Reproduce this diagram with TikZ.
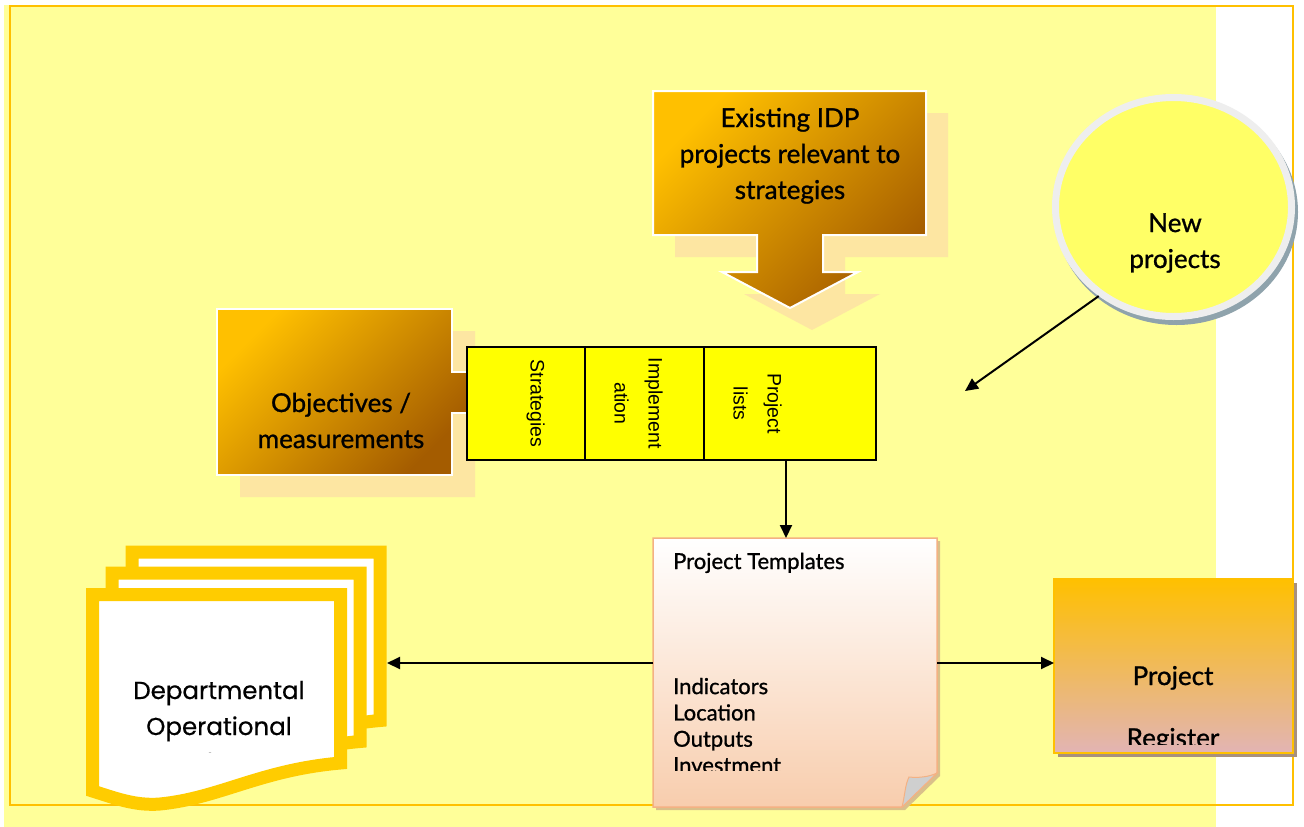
\documentclass[tikz,border=0pt]{standalone}
\usepackage{fontspec}
\setmainfont{Lato}
\newfontfamily\lblfont{Lato}[FakeBold=1]
\newfontfamily\stripfont{Liberation Sans}
\newfontfamily\docfont{Poppins}[FakeBold=0.6]
\usetikzlibrary{arrows.meta,shapes.geometric,calc}

\definecolor{bgyellow}{HTML}{FFFF99}
\definecolor{frameorange}{HTML}{FFC000}
\definecolor{goldlight}{HTML}{FFC000}
\definecolor{golddark}{HTML}{A45C00}
\definecolor{shadowtan}{HTML}{FDE6A2}
\definecolor{stripyellow}{HTML}{FFFF00}
\definecolor{circlefill}{HTML}{FFFF66}
\definecolor{ringgrey}{HTML}{EEEEEE}
\definecolor{circleshadow}{HTML}{8FA3AC}
\definecolor{noteedge}{HTML}{F4B183}
\definecolor{notebottom}{HTML}{F8CDAD}
\definecolor{noteshadow}{HTML}{D9C08A}
\definecolor{foldgrey}{HTML}{CFCFCF}
\definecolor{docgold}{HTML}{FFCC00}
\definecolor{regtop}{HTML}{FFC000}
\definecolor{regmid}{HTML}{F3B878}
\definecolor{regbottom}{HTML}{E2B4B4}
\definecolor{regshadow}{HTML}{A8907C}

\tikzset{
  conn/.style={line width=2pt, -{Triangle[length=13pt,width=12pt]}},
  anchorbox/.style={rectangle, inner sep=0pt, outer sep=0pt},
  bigtxt/.style={font=\lblfont\fontsize{26}{36}\selectfont, align=center, inner sep=0pt},
  notetxt/.style={font=\lblfont\fontsize{22}{26.3}\selectfont, align=left, inner sep=0pt},
  doctxt/.style={font=\docfont\fontsize{24.5}{36}\selectfont, align=center, inner sep=0pt},
  celltxt/.style={font=\stripfont\fontsize{19.5}{34}\selectfont, align=center, inner sep=0pt, rotate=-90, anchor=north},
  cellbox/.style={rectangle, inner sep=0pt, minimum height=113pt, fill=stripyellow, draw=black, line width=1.5pt},
  idpshape/.style={insert path={(653,91) -- (926,91) -- (926,235) -- (823,235) -- (823,272) -- (858,272) -- (790,308) -- (722,272) -- (757,272) -- (757,235) -- (653,235) -- cycle}},
  objshape/.style={insert path={(217,309) -- (452,309) -- (452,372) -- (467,372) -- (467,413) -- (452,413) -- (452,475) -- (217,475) -- cycle}},
  noteshape/.style={insert path={(653,538) -- (937,538) -- (937,773) -- (902,807) -- (653,807) -- cycle}},
  docshape/.style={insert path={(92.5,594.5) -- (340.5,594.5) -- (340.5,763) .. controls (260,770) and (220,798) .. (160,804) .. controls (135,806) and (115,798) .. (92.5,791) -- cycle}},
  goldfill/.style={top color=goldlight, bottom color=golddark, shading angle=45, draw=white, line width=2pt},
  docstyle/.style={fill=white, draw=docgold, line width=13pt, line join=miter},
}

\begin{document}
\begin{tikzpicture}[x=1pt,y=-1pt]
\useasboundingbox (0,0) rectangle (1304,827);

% page background and frame
\fill[white] (0,0) rectangle (1304,827);
\fill[bgyellow] (4,5) rectangle (1216,827);
\draw[frameorange, line width=2.5pt] (10,6) rectangle (1293,805);

% existing IDP projects: down-arrow callout with shadow
\fill[shadowtan, shift={(22,22)}] [idpshape];
\shadedraw[goldfill] [idpshape];
\node[bigtxt, anchor=base] (idp) at (790,199) {Existing IDP\\projects relevant to\\strategies};

% objectives / measurements callout with shadow
\fill[shadowtan, shift={(23,22)}] [objshape];
\shadedraw[goldfill] [objshape];
\node[bigtxt, anchor=base] (obj) at (341,448) {Objectives /\\measurements};

% strip of three cells
\node[cellbox, minimum width=118pt] (cell1) at (526,403.5) {};
\node[cellbox, minimum width=119pt] (cell2) at (644.5,403.5) {};
\node[cellbox, minimum width=172pt] (cell3) at (790,403.5) {};
\node[celltxt] (cell1txt) at (545,403.5) {Strategies};
\node[celltxt] (cell2txt) at (663,403.5) {Implement\\ation};
\node[celltxt] (cell3txt) at (782,403.5) {Project\\lists};

% new projects circle
\fill[circleshadow] (1176.5,212) ellipse [x radius=121.5, y radius=113];
\node[ellipse, fill=circlefill, draw=ringgrey, line width=7pt, minimum width=236pt, minimum height=219pt, inner sep=0pt] (newp) at (1173.5,207) {};
\node[bigtxt, anchor=base] (newptxt) at (1175,268) {New\\projects};
\coordinate (newend) at (965,391);
\draw[conn] (newp.-130) -- (newend);

% project templates note with folded corner
\node[anchorbox, minimum width=284pt, minimum height=269pt] (tmpl) at (795,672.5) {};
\fill[noteshadow, shift={(3,3)}] [noteshape];
\shadedraw[top color=white, bottom color=notebottom, draw=noteedge, line width=1.5pt] [noteshape];
\filldraw[fill=foldgrey, draw=noteedge, line width=1pt] (902,807) .. controls (905,795) and (905,785) .. (909,777) .. controls (918,778) and (929,777) .. (937,773) -- cycle;
\node[notetxt, anchor=base west] (tmplhead) at (673,569) {Project Templates};
\begin{scope}
  \clip (653,538) rectangle (937,770);
  \node[notetxt, anchor=base west] (tmpllist) at (673,773) {Indicators\\Location\\Outputs\\Investment};
\end{scope}

% departmental operational plan: stacked documents
\filldraw[docstyle, shift={(39.5,-42.5)}] [docshape];
\filldraw[docstyle, shift={(19.5,-21.5)}] [docshape];
\filldraw[docstyle] [docshape];
\node[anchorbox, minimum width=262pt, minimum height=225pt] (docs) at (256,657.5) {};
\begin{scope}
  \clip (99,601) rectangle (334,752.5);
  \node[doctxt, anchor=base] (doctxt) at (219,771) {Departmental\\Operational\\Plan};
\end{scope}

% project register box
\node[anchorbox, minimum width=239pt, minimum height=174pt] (reg) at (1173.5,666) {};
\fill[regshadow] ($(reg.north west)+(4,4)$) rectangle ($(reg.south east)+(4,4)$);
\shadedraw[top color=regtop, middle color=regmid, bottom color=regbottom, draw=frameorange, line width=2pt] (reg.north west) rectangle (reg.south east);
\begin{scope}
  \clip (1055,580) rectangle (1292,744);
  \node[bigtxt, font=\lblfont\fontsize{26}{62}\selectfont, anchor=base] (regtxt) at (1173,747) {Project\\Register};
\end{scope}

% connectors
\coordinate (dropx) at (786,0);
\coordinate (hline) at (0,663);
\draw[conn] (cell3.south -| dropx) -- (tmpl.north -| dropx);
\draw[conn] (tmpl.west |- hline) -- (docs.east |- hline);
\draw[conn] (tmpl.east |- hline) -- (reg.west |- hline);
\end{tikzpicture}
\end{document}
